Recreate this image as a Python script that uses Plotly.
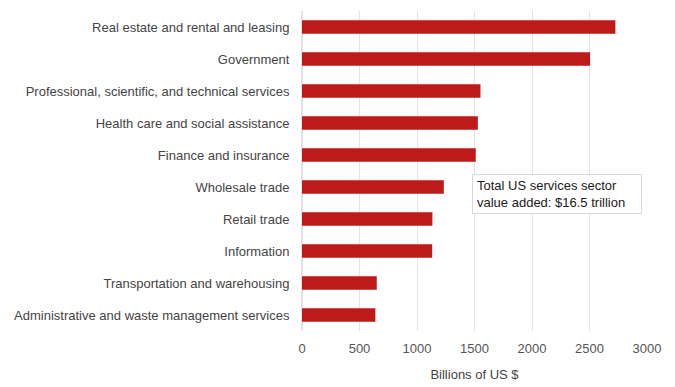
import plotly.graph_objects as go

# US services sector value added by industry (billions of US $)
industries = [
    "Real estate and rental and leasing",
    "Government",
    "Professional, scientific, and technical services",
    "Health care and social assistance",
    "Finance and insurance",
    "Wholesale trade",
    "Retail trade",
    "Information",
    "Transportation and warehousing",
    "Administrative and waste management services",
]
value_added = [2725, 2505, 1552, 1529, 1511, 1233, 1134, 1132, 650, 638]
x_ticks = [0, 500, 1000, 1500, 2000, 2500, 3000]

BAR_RED = "#BE1A1A"
FONT = "Liberation Sans, Arial, sans-serif"

fig = go.Figure(
    go.Bar(
        x=value_added,
        y=industries,
        orientation="h",
        marker=dict(color=BAR_RED, line=dict(width=0)),
        width=0.42,
        hoverinfo="x+y",
    )
)

fig.update_layout(
    width=675,
    height=387,
    margin=dict(l=302, r=28, t=11, b=56),
    paper_bgcolor="white",
    plot_bgcolor="white",
    font=dict(family=FONT, size=13, color="#444444"),
    showlegend=False,
    annotations=[
        dict(
            text="Total US services sector<br>value added: $16.5 trillion",
            x=1475,
            xref="x",
            xanchor="left",
            y=0.429,
            yref="paper",
            yanchor="middle",
            showarrow=False,
            align="left",
            width=160,
            height=30,
            font=dict(family=FONT, size=13, color="#1a1a1a"),
            bgcolor="white",
            bordercolor="#d9d9d9",
            borderwidth=1,
            borderpad=4,
        )
    ],
)

fig.update_xaxes(
    range=[0, 3000],
    tickvals=x_ticks,
    showgrid=True,
    gridcolor="#e3e3e3",
    gridwidth=1,
    zeroline=True,
    zerolinecolor="#e3e3e3",
    showline=False,
    ticks="",
    ticklabelstandoff=8,
    automargin=False,
    tickfont=dict(size=13, color="#555555"),
    title=dict(text="Billions of US $", font=dict(size=13, color="#444444"), standoff=14),
)

fig.update_yaxes(
    categoryorder="array",
    categoryarray=industries[::-1],
    showgrid=False,
    zeroline=False,
    showline=False,
    ticks="outside",
    ticklen=9,
    tickcolor="rgba(0,0,0,0)",
    tickfont=dict(size=13, color="#444444"),
)

fig.write_html("out.html")
